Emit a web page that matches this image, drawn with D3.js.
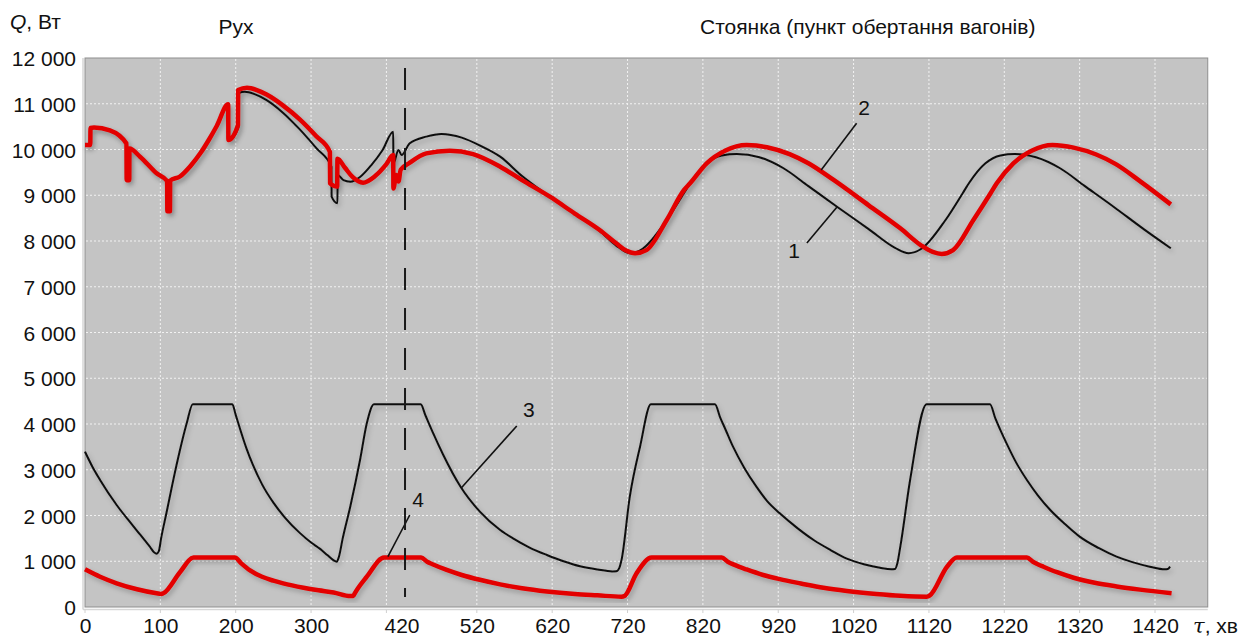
<!DOCTYPE html>
<html>
<head>
<meta charset="utf-8">
<script src="https://cdn.jsdelivr.net/npm/d3@7"></script>
<style>
  body { margin: 0; background: #fff; }
  svg text { font-family: "Liberation Sans", Arial, sans-serif; fill: #111; }
</style>
</head>
<body>
<svg id="chart"></svg>
<script>
// curve 1 (black) and curve 2 (red): heat flow Q, W over time tau, min
const curve1 = [[0,10100],[7,10100],[7.3,10470],[12,10480],[33,10420],[55,10130],[55.3,9330],[58.7,9330],[59,10020],[73,9843],[95,9480],[109,9300],[109.3,8650],[112.7,8650],[113,9310],[126,9400],[140,9620],[153,9900],[165,10210],[175,10500],[190,10960],[190.3,10200],[203.5,10480],[203.8,11230],[212,11260],[225,11210],[241,11080],[263,10800],[285,10440],[307,10030],[327,9624],[327.3,8968],[335,8823],[335.3,9443],[343,9330],[352,9296],[365,9400],[380,9660],[395,9990],[409,10390],[409.3,9698],[416,9989],[420,9880],[431,10135],[453,10281],[473,10339],[500,10260],[525,10080],[551,9843],[580,9420],[617,8968],[650,8590],[683,8220],[705,7900],[723,7732],[740,7830],[772,8459],[795,9050],[803,9261],[825,9698],[845,9870],[865,9902],[895,9830],[927,9590],[960,9200],[998,8750],[1040,8260],[1075,7850],[1093,7732],[1110,7830],[1142,8459],[1165,9050],[1173,9261],[1195,9698],[1215,9870],[1234,9902],[1262,9830],[1294,9590],[1327,9200],[1365,8750],[1405,8260],[1441,7841]];

const curve2 = [[0,10100],[7,10100],[7.3,10470],[12,10480],[33,10420],[55,10130],[55.3,9330],[58.7,9330],[59,10020],[73,9843],[95,9480],[109,9310],[109.3,8650],[112.7,8650],[113,9320],[126,9410],[140,9640],[153,9916],[165,10230],[175,10520],[190,10990],[190.3,10210],[203,10530],[203.3,11300],[215,11350],[228,11300],[241,11200],[263,10960],[285,10660],[307,10290],[325,9950],[325.3,9260],[334.7,9190],[335,9800],[345,9600],[355,9400],[369,9275],[385,9420],[400,9680],[409,9880],[409.3,9150],[413,9440],[416,9300],[419,9560],[430,9700],[453,9916],[484,9973],[515,9900],[551,9625],[580,9330],[617,8968],[650,8600],[683,8240],[705,7950],[718,7790],[730,7730],[745,7800],[772,8459],[795,9115],[803,9261],[825,9698],[850,9980],[878,10098],[905,10050],[935,9900],[960,9700],[993,9340],[1040,8780],[1082,8277],[1110,7900],[1125,7760],[1137,7716],[1152,7800],[1179,8459],[1202,9050],[1210,9261],[1232,9698],[1257,9980],[1284,10098],[1312,10040],[1342,9890],[1368,9680],[1400,9310],[1441,8800]];

// curve 3 (black) and curve 4 (red), lower pair
const curve3 = [[0,3395],[10,3060],[20,2776],[42,2230],[64,1770],[86,1318],[92,1190],[95,1165],[98,1220],[101,1500],[108,2048],[122,3141],[135,4015],[143,4430],[195.5,4430],[200,4200],[206,3880],[214,3480],[223,3100],[235,2680],[250,2280],[265,1960],[285,1620],[300,1410],[312,1270],[322,1130],[330,1020],[334,990],[337,1100],[342,1500],[352,2193],[365,3213],[374,4015],[383.5,4430],[445.5,4430],[452,4180],[462,3800],[475,3340],[498,2640],[524,2085],[551,1683],[568,1500],[590,1300],[613,1137],[635,1000],[657,890],[680,820],[700,778],[705,780],[709,850],[712,1027],[723,2411],[736.6,3504],[751,4430],[836,4430],[843,4140],[850,3880],[860,3504],[875,3040],[891,2630],[905,2320],[922,2048],[945,1730],[967,1464],[990,1240],[1011,1056],[1035,930],[1055,859],[1070,825],[1075,830],[1078,950],[1082,1318],[1095,2776],[1117,4430],[1201,4430],[1208,4130],[1215,3860],[1223,3577],[1236,3150],[1250,2776],[1265,2430],[1281,2120],[1300,1820],[1320,1538],[1345,1290],[1369,1100],[1390,980],[1413,881],[1433,823],[1437,830],[1440,881]];

const curve4 = [[0,823],[20,660],[42,518],[69,387],[95,299],[101,285],[104,300],[126,760],[144,1080],[199,1080],[207,960],[219,800],[235,660],[250,575],[263,515],[290,420],[310,365],[330,318],[352,238],[356,240],[358,299],[374,663],[397,1080],[446,1080],[454,990],[462,930],[480,810],[500,700],[524,595],[551,495],[580,410],[613,340],[650,285],[680,255],[712,225],[716,240],[732,736],[752,1080],[845,1080],[853,990],[862,920],[878,820],[900,700],[922,610],[950,515],[980,420],[1011,350],[1050,285],[1082,245],[1117,225],[1121,250],[1144,881],[1157,1080],[1250,1080],[1258,990],[1265,930],[1272,880],[1290,760],[1312,640],[1340,530],[1369,450],[1400,380],[1442,300]];

const xTickLabels = [0, 100, 200, 300, 420, 520, 620, 720, 820, 920, 1020, 1120, 1220, 1320, 1420];
const xGridValues = [0, 100, 200, 300, 400, 520, 620, 720, 820, 920, 1020, 1120, 1220, 1320, 1420];
const yTickValues = [0, 1000, 2000, 3000, 4000, 5000, 6000, 7000, 8000, 9000, 10000, 11000, 12000];

// numbered labels with their leader lines: [label, labelX, labelY, fromX, fromY, toX, toY]
const callouts = [
  ["1", 941, 7628, 958, 7956, 998, 8743],
  ["2", 1034, 10754, 977, 9552, 1024, 10572],
  ["3", 589, 4153, 573, 3957, 499, 2595],
  ["4", 442, 2186, 431, 2011, 402, 1100],
];
const boundaryTau = 424.7; // dashed line between "Рух" and "Стоянка"
const boundaryRange = [219, 11782];

class QChart {
  constructor(_config) {
    this.config = {
      parentElement: _config.parentElement,
      containerWidth: _config.containerWidth || 1258,
      containerHeight: _config.containerHeight || 637,
      plotLeft: 85,
      plotTop: 58,
      plotBottom: 607,
      pxPerMin: 1070 / 1420,
      xMax: 1490,
    };
    this.initVis();
  }

  initVis() {
    let vis = this;
    const c = vis.config;

    vis.svg = d3
      .select(c.parentElement)
      .attr("width", c.containerWidth)
      .attr("height", c.containerHeight)
      .style("background", "#fff");

    vis.xScale = d3
      .scaleLinear()
      .domain([0, c.xMax])
      .range([c.plotLeft, c.plotLeft + c.xMax * c.pxPerMin]);

    vis.yScale = d3
      .scaleLinear()
      .domain([0, 12000])
      .range([c.plotBottom, c.plotTop]);

    const defs = vis.svg.append("defs");
    const f = defs
      .append("filter")
      .attr("id", "shade")
      .attr("x", "-5%")
      .attr("y", "-5%")
      .attr("width", "110%")
      .attr("height", "120%");
    f.append("feDropShadow")
      .attr("dx", 2)
      .attr("dy", 3)
      .attr("stdDeviation", 2.5)
      .attr("flood-color", "#000")
      .attr("flood-opacity", 0.22);

    const x0 = vis.xScale(0);
    const x1 = vis.xScale(c.xMax);
    const y0 = vis.yScale(0);
    const y1 = vis.yScale(12000);

    // light axis lines outside the plot
    vis.svg
      .append("line")
      .attr("x1", x0 - 2)
      .attr("x2", x1)
      .attr("y1", y0 + 2.5)
      .attr("y2", y0 + 2.5)
      .attr("stroke", "#d6d6d6")
      .attr("stroke-width", 1.5);
    vis.svg
      .append("line")
      .attr("x1", x0 - 2)
      .attr("x2", x0 - 2)
      .attr("y1", y1)
      .attr("y2", y0 + 2.5)
      .attr("stroke", "#d6d6d6")
      .attr("stroke-width", 1.5);
    vis.svg
      .selectAll(".xtick")
      .data(xGridValues)
      .join("line")
      .attr("class", "xtick")
      .attr("x1", (d) => vis.xScale(d))
      .attr("x2", (d) => vis.xScale(d))
      .attr("y1", y0 + 2.5)
      .attr("y2", y0 + 6)
      .attr("stroke", "#d0d0d0");

    // plot background
    vis.svg
      .append("rect")
      .attr("x", x0)
      .attr("y", y1)
      .attr("width", x1 - x0)
      .attr("height", y0 - y1)
      .attr("fill", "#c4c4c4")
      .attr("stroke", "#8e8e8e")
      .attr("stroke-width", 1);

    // gridlines
    vis.svg
      .selectAll(".vgrid")
      .data(xGridValues.slice(1))
      .join("line")
      .attr("class", "vgrid")
      .attr("x1", (d) => vis.xScale(d))
      .attr("x2", (d) => vis.xScale(d))
      .attr("y1", y1 + 1)
      .attr("y2", y0 - 1)
      .attr("stroke", "#f2f2f2")
      .attr("stroke-dasharray", "2,2");
    vis.svg
      .selectAll(".hgrid")
      .data(yTickValues.slice(1, -1))
      .join("line")
      .attr("class", "hgrid")
      .attr("x1", x0 + 1)
      .attr("x2", x1 - 1)
      .attr("y1", (d) => vis.yScale(d))
      .attr("y2", (d) => vis.yScale(d))
      .attr("stroke", "#f2f2f2")
      .attr("stroke-dasharray", "2,2");

    // axes
    const fmt = d3.formatLocale({ decimal: ",", thousands: " ", grouping: [3], currency: ["", ""] }).format(",");
    vis.yAxis = d3.axisLeft(vis.yScale).tickValues(yTickValues).tickFormat(fmt).tickSize(0).tickPadding(9);
    vis.xAxis = d3.axisBottom(vis.xScale).tickValues(xTickLabels).tickFormat(d3.format("d")).tickSize(0).tickPadding(11);

    vis.yAxisGroup = vis.svg.append("g").attr("transform", `translate(${x0},0)`).call(vis.yAxis);
    vis.xAxisGroup = vis.svg.append("g").attr("transform", `translate(0,${y0})`).call(vis.xAxis);
    [vis.yAxisGroup, vis.xAxisGroup].forEach((g) => {
      g.select(".domain").remove();
      g.selectAll("text").style("font-size", "21px").attr("fill", "#111");
    });
    vis.yAxisGroup.selectAll("text").attr("dy", "0.36em");

    vis.renderVis();
  }

  renderVis() {
    let vis = this;

    vis.line = d3
      .line()
      .x((d) => vis.xScale(d[0]))
      .y((d) => vis.yScale(d[1]))
      .curve(d3.curveMonotoneX);

    const series = [
      { data: curve1, color: "#111", width: 2 },
      { data: curve3, color: "#111", width: 2 },
      { data: curve2, color: "#e30000", width: 4.5 },
      { data: curve4, color: "#e30000", width: 4.5 },
    ];

    vis.svg
      .selectAll(".q-line")
      .data(series)
      .join("path")
      .attr("class", "q-line")
      .attr("fill", "none")
      .attr("stroke", (d) => d.color)
      .attr("stroke-width", (d) => d.width)
      .attr("stroke-linejoin", "round")
      .attr("filter", "url(#shade)")
      .attr("d", (d) => vis.line(d.data));

    // leader lines and numbers
    vis.svg
      .selectAll(".leader")
      .data(callouts)
      .join("line")
      .attr("class", "leader")
      .attr("x1", (d) => vis.xScale(d[3]))
      .attr("y1", (d) => vis.yScale(d[4]))
      .attr("x2", (d) => vis.xScale(d[5]))
      .attr("y2", (d) => vis.yScale(d[6]))
      .attr("stroke", "#111")
      .attr("stroke-width", 1.6);

    vis.svg
      .selectAll(".callout")
      .data(callouts)
      .join("text")
      .attr("class", "callout")
      .attr("x", (d) => vis.xScale(d[1]))
      .attr("y", (d) => vis.yScale(d[2]))
      .attr("text-anchor", "middle")
      .style("font-size", "21px")
      .text((d) => d[0]);

    // boundary between motion and stop
    vis.svg
      .append("line")
      .attr("x1", vis.xScale(boundaryTau))
      .attr("x2", vis.xScale(boundaryTau))
      .attr("y1", vis.yScale(boundaryRange[1]))
      .attr("y2", vis.yScale(boundaryRange[0]))
      .attr("stroke", "#1a1a1a")
      .attr("stroke-width", 2)
      .attr("stroke-dasharray", "22,18");

    // titles
    const qLabel = vis.svg.append("text").attr("x", 10).attr("y", 29).style("font-size", "21px");
    qLabel.append("tspan").style("font-style", "italic").text("Q");
    qLabel.append("tspan").text(", Вт");

    vis.svg
      .append("text")
      .attr("x", 236)
      .attr("y", 34)
      .attr("text-anchor", "middle")
      .style("font-size", "21px")
      .text("Рух");

    vis.svg
      .append("text")
      .attr("x", 700)
      .attr("y", 34)
      .style("font-size", "21px")
      .text("Стоянка (пункт обертання вагонів)");

    const tLabel = vis.svg.append("text").attr("x", 1193).attr("y", 633).style("font-size", "21px");
    tLabel.append("tspan").style("font-style", "italic").style("font-family", "'DejaVu Serif', serif").text("τ");
    tLabel.append("tspan").text(", хв");
  }
}

new QChart({ parentElement: "#chart" });
</script>
</body>
</html>
